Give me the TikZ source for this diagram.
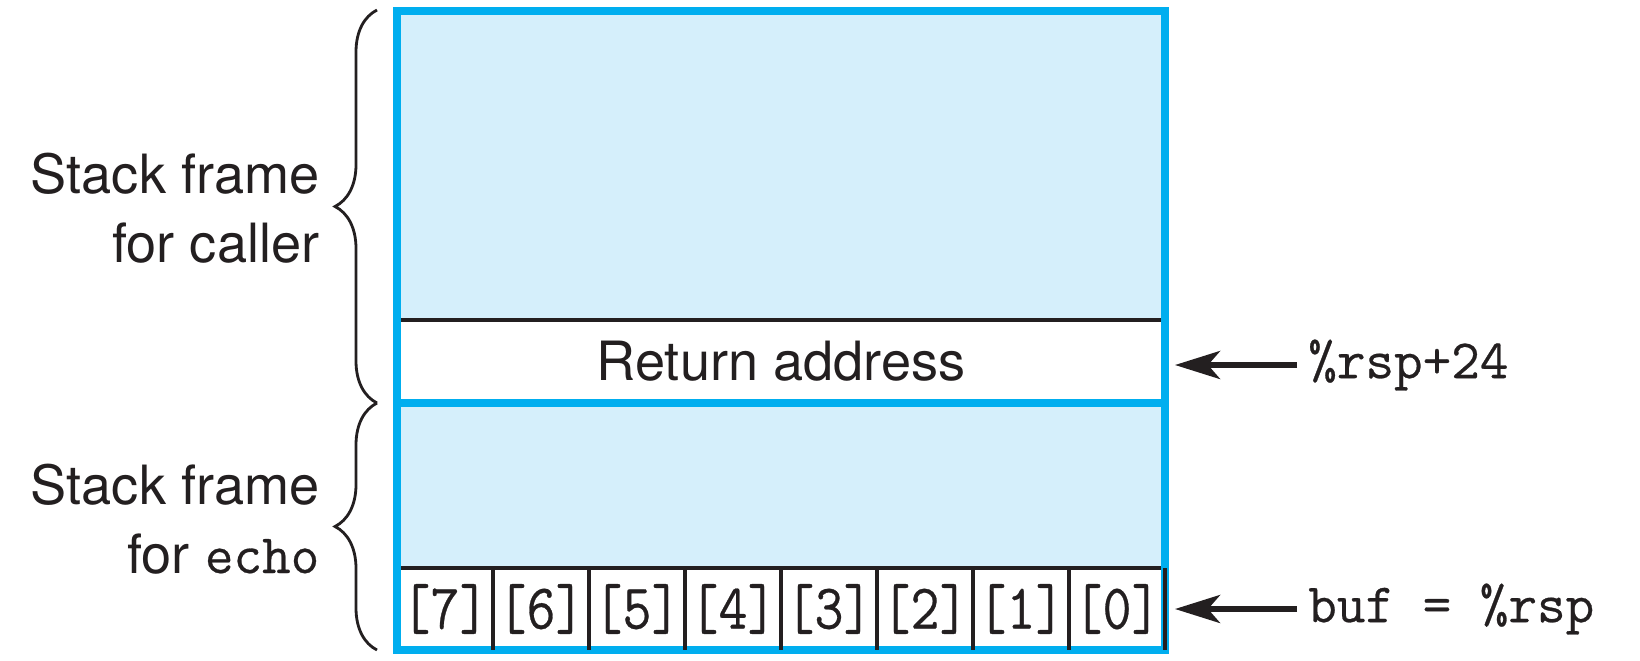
\documentclass[tikz,border=0pt]{standalone}
\usepackage{fontspec}
\setmainfont{TeX Gyre Heros}
\setmonofont{Latin Modern Mono}[FakeBold=0.5]
\usetikzlibrary{arrows.meta,decorations.pathreplacing}
\definecolor{framecyan}{HTML}{00AEEF}
\definecolor{framefill}{HTML}{D5EFFB}
\definecolor{inkblack}{HTML}{231F20}
\begin{document}
\begin{tikzpicture}[
		bluepen/.style={draw=framecyan, line width=0.08cm},
		blackpen/.style={draw=inkblack, line width=0.045cm},
		bracepen/.style={draw=inkblack, line width=0.8pt, decorate, decoration={brace, amplitude=0.42cm}},
		ptr/.style={draw=inkblack, line width=0.055cm, -{Stealth[length=0.45cm, width=0.28cm, inset=0.12cm]}},
		sidelbl/.style={inner sep=0pt, align=right, anchor=base east, text=inkblack, font=\fontsize{15.4}{19.4}\selectfont},
		regname/.style={anchor=west, inner sep=0pt, inner xsep=3pt, text=inkblack, font=\fontsize{15.8}{19}\ttfamily},
		cellname/.style={inner sep=0pt, text=inkblack, font=\fontsize{18.2}{20}\ttfamily}
	]
		\useasboundingbox (0,0) rectangle (16.4,6.6);
		
		\fill[framefill] (3.97,3.40) rectangle (11.65,6.49);
		\fill[framefill] (3.97,0.92) rectangle (11.65,2.57);
		\draw[blackpen] (3.97,3.40) -- (11.65,3.40);
		\draw[blackpen] (3.97,0.92) -- (11.65,0.92);
		\draw[bluepen] (3.97,0.10) rectangle (11.65,6.49);
		\draw[bluepen] (3.97,2.57) -- (11.65,2.57);
		
		\node[text=inkblack, font=\fontsize{15.4}{19.4}\selectfont] (ret) at (7.81,2.985) {Return address};
		
		% buf[0..7]
		\foreach \k in {1,...,8}{
			\draw[blackpen] ({3.97+0.96*\k},0.92) -- ({3.97+0.96*\k},0.10);
		}
		\foreach \k in {0,...,7}{
			\node[cellname] (cell\k) at ({11.65-0.48-0.96*\k},0.51) {\scalebox{0.88}[1]{[\k]}};
		}
		
		\draw[bracepen] (3.77,2.57) -- (3.77,6.50);
		\draw[bracepen] (3.77,0.10) -- (3.77,2.57);
		\node[sidelbl] (callerlbl) at (3.20,3.98) {Stack frame\\for caller};
		\node[sidelbl] (echolbl) at (3.20,0.87) {Stack frame\\for {\fontsize{15.8}{19.4}\ttfamily echo}};
		
		\node[regname] (rsplbl) at (12.97,2.95) {\%rsp+24};
		\node[regname] (buflbl) at (12.97,0.51) {buf = \%rsp};
		\coordinate (rettip) at (11.75,2.95);
		\coordinate (buftip) at (11.75,0.51);
		\draw[ptr] (rsplbl.west) -- (rettip);
		\draw[ptr] (buflbl.west) -- (buftip);
\end{tikzpicture}
\end{document}
